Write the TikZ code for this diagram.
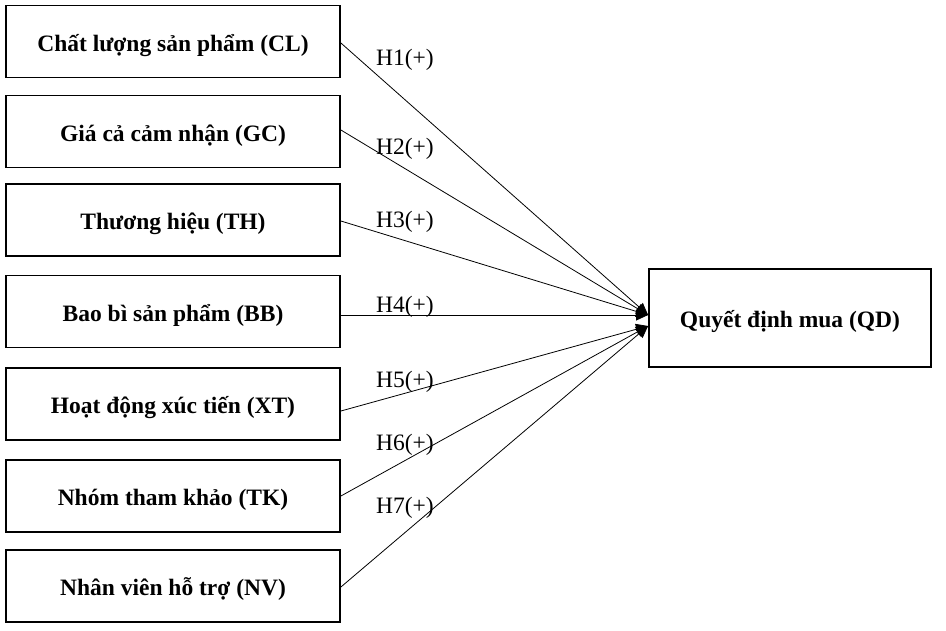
\documentclass[tikz,border=0pt]{standalone}
\usepackage{fontspec}
\setmainfont{Liberation Serif}
\usetikzlibrary{arrows.meta}
\begin{document}
\begin{tikzpicture}[x=1pt,y=-1pt,
  factor/.style={draw=black,line width=1.8pt,minimum width=334pt,minimum height=72pt,inner sep=0pt,text height=22pt,text depth=3pt,font=\fontsize{23.5}{28}\selectfont\bfseries},
  target/.style={draw=black,line width=1.8pt,minimum width=282pt,minimum height=98pt,inner sep=0pt,text height=22pt,text depth=3pt,font=\fontsize{23.5}{28}\selectfont\bfseries},
  link/.style={draw=black,line width=0.8pt,-{Triangle[length=12pt,width=11pt]}},
  hlabel/.style={anchor=base west,inner sep=0pt,font=\fontsize{23.5}{28}\selectfont}]
\useasboundingbox (0,0) rectangle (946,630);
\node[factor] (cl) at (173,41.5) {Chất lượng sản phẩm (CL)};
\node[factor] (gc) at (173,131.5) {Giá cả cảm nhận (GC)};
\node[factor] (th) at (173,220) {Thương hiệu (TH)};
\node[factor] (bb) at (173,311.5) {Bao bì sản phẩm (BB)};
\node[factor] (xt) at (173,404) {Hoạt động xúc tiến (XT)};
\node[factor] (tk) at (173,496) {Nhóm tham khảo (TK)};
\node[factor] (nv) at (173,586) {Nhân viên hỗ trợ (NV)};
\node[target] (qd) at (790,318) {Quyết định mua (QD)};
\coordinate (tipA) at ([yshift=3pt]qd.west);
\coordinate (tipB) at ([yshift=-8pt]qd.west);
\draw[link] ([yshift=-1.5pt]cl.east) -- (tipA);
\draw[link] ([yshift=1.5pt]gc.east) -- (tipA);
\draw[link] ([yshift=-1pt]th.east) -- (tipA);
\draw[link] ([yshift=-3.5pt]bb.east) -- (tipA);
\draw[link] ([yshift=-7pt]xt.east) -- (tipB);
\draw[link] (tk.east) -- (tipB);
\draw[link] ([yshift=-1pt]nv.east) -- (tipB);
\node[hlabel] (h1) at (376,65) {H1(+)};
\node[hlabel] (h2) at (376,154) {H2(+)};
\node[hlabel] (h3) at (376,227) {H3(+)};
\node[hlabel] (h4) at (376,312) {H4(+)};
\node[hlabel] (h5) at (376,387) {H5(+)};
\node[hlabel] (h6) at (376,450) {H6(+)};
\node[hlabel] (h7) at (376,513) {H7(+)};
\end{tikzpicture}
\end{document}
